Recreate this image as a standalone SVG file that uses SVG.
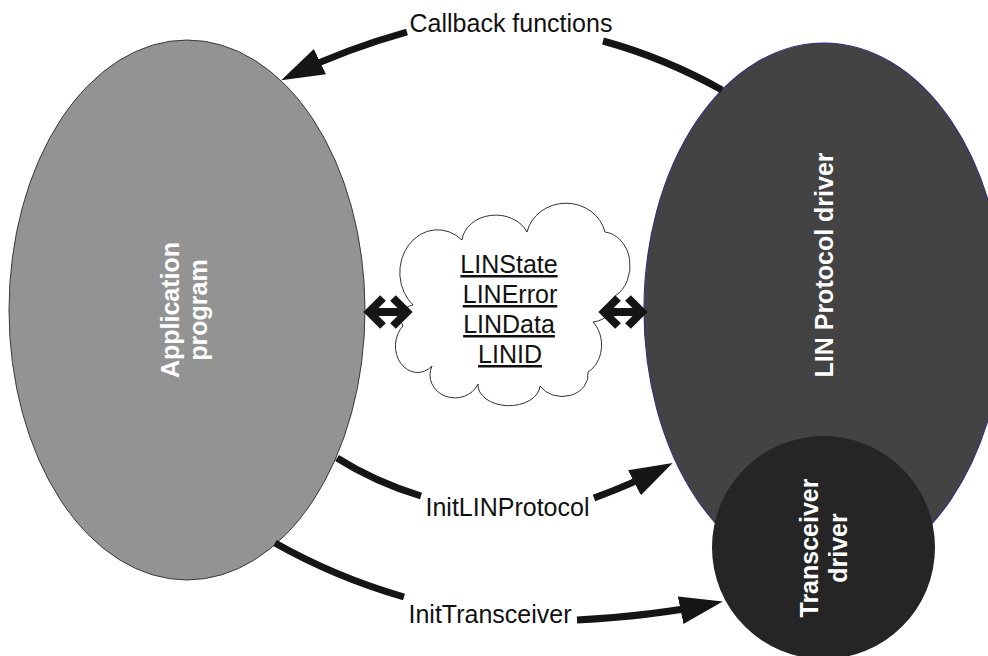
<svg xmlns="http://www.w3.org/2000/svg" width="988" height="656" viewBox="0 0 988 656">
<style>
.lbl{font-family:"Liberation Sans",Arial,sans-serif;font-size:25px;fill:#111;}
.nodetxt{font-family:"Liberation Sans",Arial,sans-serif;font-weight:bold;font-size:25px;fill:#fff;text-anchor:middle;}
.conn{fill:none;stroke:#151515;stroke-width:7;}
.dbl{fill:none;stroke:#151515;stroke-width:8;stroke-linejoin:miter;stroke-miterlimit:10;}
.cloudtxt{font-family:"Liberation Sans",Arial,sans-serif;font-size:25px;fill:#111;text-anchor:middle;text-decoration:underline;}
</style>
<defs>
<marker id="ah" markerUnits="userSpaceOnUse" markerWidth="44" markerHeight="30" viewBox="0 0 44 30" refX="31" refY="15" orient="auto">
<path d="M0,1 L43,15 L0,29 Z" fill="#151515"/>
</marker>
<g id="dblarrow">
<polyline class="dbl" points="383,298 369,312 383,326"/>
<polyline class="dbl" points="393,298 407,312 393,326"/>
<line class="dbl" x1="370" y1="312" x2="406" y2="312"/>
</g>
</defs>

<g id="app">
<ellipse cx="187" cy="310" rx="178" ry="270" fill="#939393" stroke="#3a3a3a" stroke-width="1"/>
<g transform="translate(187,310) rotate(-90)">
<text class="nodetxt" x="0" y="-8">Application</text>
<text class="nodetxt" x="0" y="20">program</text>
</g>
</g>

<g id="lin">
<ellipse cx="824" cy="310" rx="180" ry="267" fill="#434343" stroke="#3b2f7a" stroke-width="1.2"/>
<g transform="translate(824,265) rotate(-90)">
<text class="nodetxt" x="0" y="9">LIN Protocol driver</text>
</g>
</g>

<g id="transceiver">
<circle cx="823.5" cy="547.5" r="111.5" fill="#252525"/>
<g transform="translate(823.5,548) rotate(-90)">
<text class="nodetxt" x="0" y="-5.5">Transceiver</text>
<text class="nodetxt" x="0" y="23.5">driver</text>
</g>
</g>

<g id="cloud">
<path d="M413,305 A30,34 0 0 1 462,240 A34,28 0 0 1 527,232 A40,37 0 0 1 605,232 A28,34 0 0 1 615,296 A24,24 0 0 1 593,322 A24,30 0 0 1 588,372 A26,22 0 0 1 540,386 A30,20 0 0 1 478,384 A24,22 0 0 1 432,366 A20,24 0 0 1 403,326 A14,14 0 0 1 413,305 Z" fill="#fff" stroke="#333" stroke-width="1"/>
<text class="cloudtxt" x="509" y="273">LINState</text>
<text class="cloudtxt" x="510" y="303">LINError</text>
<text class="cloudtxt" x="509" y="333">LINData</text>
<text class="cloudtxt" x="510" y="363">LINID</text>
</g>

<g id="connectors">
<path class="conn" d="M722,90 Q665,58 603,41"/>
<path class="conn" d="M407,32 Q346,49 292,75" marker-end="url(#ah)"/>
<text class="lbl" x="511" y="32" text-anchor="middle">Callback functions</text>

<path class="conn" d="M337,458 Q375,482 421,496"/>
<path class="conn" d="M594,498 Q631,484.5 662,468.5" marker-end="url(#ah)"/>
<text class="lbl" x="507.5" y="516" text-anchor="middle">InitLINProtocol</text>

<path class="conn" d="M275,543 Q335,577 404,597"/>
<path class="conn" d="M577,620 Q652,616 711,604" marker-end="url(#ah)"/>
<text class="lbl" x="490" y="623" text-anchor="middle">InitTransceiver</text>

<use href="#dblarrow"/>
<use href="#dblarrow" x="235"/>
</g>
</svg>
